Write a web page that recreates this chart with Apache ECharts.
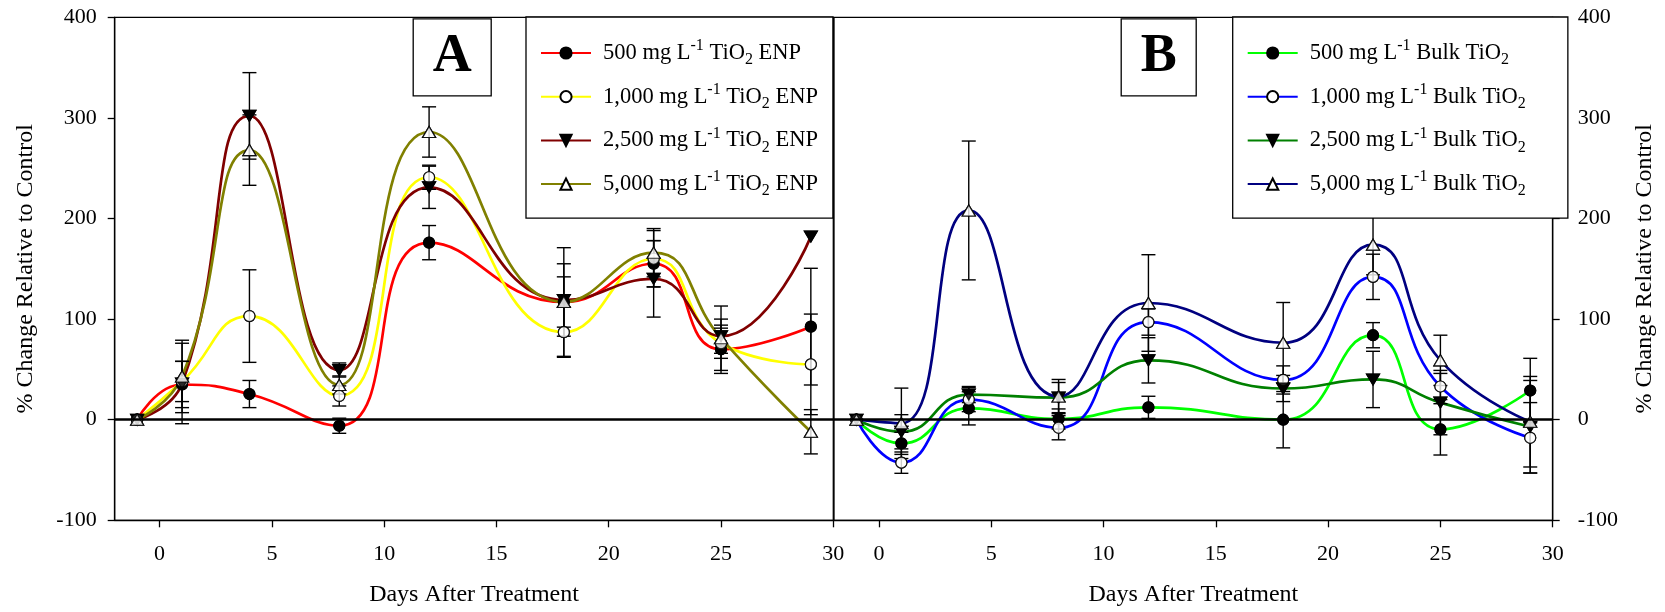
<!DOCTYPE html>
<html><head><meta charset="utf-8">
<script src="https://cdn.jsdelivr.net/npm/echarts@6/dist/echarts.min.js"></script>
<style>html,body{margin:0;padding:0;background:#fff}#c{width:1665px;height:612px}</style>
</head><body><div id="c"></div>
<script>
// ---- data ----
const days = [-1, 1, 4, 8, 12, 18, 22, 25, 29];
const xTickValues = [0, 5, 10, 15, 20, 25, 30];

// Panel A: TiO2 ENP
const enp500     = [0, 35, 25.5, -6, 176, 117, 155, 70, 92.5];
const enp500Err  = [0, 23, 13.5, 7.5, 17, 25, 23, 24, 58];
const enp1000    = [0, 38, 103, 23.6, 241, 87, 160, 76, 55];
const enp1000Err = [0, 20, 46, 10, 12, 25, 28, 15, 50];
const enp2500    = [0, 36, 302, 49.4, 231, 119, 140, 83, 182];
const enp2500Err = [0, 40, 43, 7, 21, 36, 38, 17, 0];
const enp5000    = [0, 43, 268, 34.5, 286, 117, 166, 81, -12];
const enp5000Err = [0, 36, 35, 9, 25, 54, 24, 32, 22];

// Panel B: Bulk TiO2
const bulk500     = [0, -23.5, 11.3, 0.7, 12.3, 0, 84, -9.6, 29];
const bulk500Err  = [0, 11, 16.5, 10, 11, 28, 12.5, 25.5, 32];
const bulk1000    = [0, -42.7, 20, -8, 97, 39.5, 142, 33, -18];
const bulk1000Err = [0, 10.6, 12, 12, 13, 14, 22.5, 13, 35];
const bulk2500    = [0, -12, 25, 22, 59, 31, 40, 17, -7];
const bulk2500Err = [0, 17, 8, 15, 22.5, 13, 28, 32, 46];
const bulk5000    = [0, -3.6, 208, 23, 116, 76.5, 174, 59, -2];
const bulk5000Err = [0, 35, 69, 17, 48, 40, 30, 25, 45];

const legendA = {
  enp500:  '{f|500 mg L}{sup|-1}{b| TiO}{sub|2}{b| ENP}',
  enp1000: '{f|1,000 mg L}{sup|-1}{b| TiO}{sub|2}{b| ENP}',
  enp2500: '{f|2,500 mg L}{sup|-1}{b| TiO}{sub|2}{b| ENP}',
  enp5000: '{f|5,000 mg L}{sup|-1}{b| TiO}{sub|2}{b| ENP}'
};
const legendB = {
  bulk500:  '{f|500 mg L}{sup|-1}{b| Bulk TiO}{sub|2}',
  bulk1000: '{f|1,000 mg L}{sup|-1}{b| Bulk TiO}{sub|2}',
  bulk2500: '{f|2,500 mg L}{sup|-1}{b| Bulk TiO}{sub|2}',
  bulk5000: '{f|5,000 mg L}{sup|-1}{b| Bulk TiO}{sub|2}'
};
const yName = '% Change Relative to Control';
const xName = 'Days After Treatment';

// ---- styles ----
const FONT = 'Liberation Serif';
const markers = {
  circleFill:  {symbol: 'circle', size: 11, rotate: 0, fill: '#000'},
  circleOpen:  {symbol: 'circle', size: 11, rotate: 0, fill: '#fff'},
  triDown:     {symbol: 'triangle', size: [13, 11], rotate: 180, fill: '#000'},
  triUp:       {symbol: 'triangle', size: [13, 11], rotate: 0, fill: '#fff'}
};

const defs = [
  {name: 'enp500',  g: 0, vals: enp500,  errs: enp500Err,  color: '#ff0000', m: markers.circleFill},
  {name: 'enp1000', g: 0, vals: enp1000, errs: enp1000Err, color: '#ffff00', m: markers.circleOpen},
  {name: 'enp2500', g: 0, vals: enp2500, errs: enp2500Err, color: '#800000', m: markers.triDown},
  {name: 'enp5000', g: 0, vals: enp5000, errs: enp5000Err, color: '#808000', m: markers.triUp},
  {name: 'bulk500',  g: 1, vals: bulk500,  errs: bulk500Err,  color: '#00ff00', m: markers.circleFill},
  {name: 'bulk1000', g: 1, vals: bulk1000, errs: bulk1000Err, color: '#0000ff', m: markers.circleOpen},
  {name: 'bulk2500', g: 1, vals: bulk2500, errs: bulk2500Err, color: '#008000', m: markers.triDown},
  {name: 'bulk5000', g: 1, vals: bulk5000, errs: bulk5000Err, color: '#000080', m: markers.triUp}
];

function errRender(params, api) {
  const x = api.value(0), lo = api.value(1), hi = api.value(2);
  const p1 = api.coord([x, lo]), p2 = api.coord([x, hi]);
  const w = 7;
  const st = {stroke: '#000', lineWidth: 1.4};
  return {type: 'group', children: [
    {type: 'line', shape: {x1: p1[0], y1: p1[1], x2: p2[0], y2: p2[1]}, style: st},
    {type: 'line', shape: {x1: p1[0] - w, y1: p1[1], x2: p1[0] + w, y2: p1[1]}, style: st},
    {type: 'line', shape: {x1: p2[0] - w, y1: p2[1], x2: p2[0] + w, y2: p2[1]}, style: st}
  ]};
}

const series = [];
defs.forEach(d => {
  const pts = days.map((x, i) => [x, d.vals[i]]);
  const mk = {
    symbol: d.m.symbol, symbolSize: d.m.size, symbolRotate: d.m.rotate,
    itemStyle: {color: d.m.fill, borderColor: '#000', borderWidth: 1.2}
  };
  series.push(Object.assign({
    name: d.name, type: 'line', xAxisIndex: d.g, yAxisIndex: d.g,
    data: pts, smooth: 0.5, showSymbol: true,
    lineStyle: {color: d.color, width: 2.7}, z: 2, silent: true
  }, mk));
  series.push({
    type: 'custom', xAxisIndex: d.g, yAxisIndex: d.g, z: 3, silent: true,
    renderItem: errRender, encode: {x: 0, y: [1, 2]},
    data: days.map((x, i) => [x, d.vals[i] - d.errs[i], d.vals[i] + d.errs[i]]).filter((r, i) => d.errs[i] > 0)
  });
  series.push(Object.assign({
    type: 'scatter', xAxisIndex: d.g, yAxisIndex: d.g, data: pts, z: 4, silent: true
  }, mk));
});
// zero lines
[0, 1].forEach(g => {
  series.push({
    type: 'line', xAxisIndex: g, yAxisIndex: g, data: [], z: 3, silent: true,
    markLine: {silent: true, symbol: ['none', 'none'], label: {show: false},
      lineStyle: {color: '#000', width: 2.6, type: 'solid'}, data: [{yAxis: 0}]}
  });
});

const richStyle = {
  f: {fontFamily: FONT, fontSize: 22.5, color: '#000', lineHeight: 30, verticalAlign: 'middle', padding: [0, 0, 0, 7]},
  b: {fontFamily: FONT, fontSize: 22.5, color: '#000', lineHeight: 30, verticalAlign: 'middle'},
  sup: {fontFamily: FONT, fontSize: 16, color: '#000', lineHeight: 16, verticalAlign: 'top'},
  sub: {fontFamily: FONT, fontSize: 16, color: '#000', lineHeight: 16, verticalAlign: 'bottom'}
};

function legendCfg(names, map, pos, padRight) {
  return Object.assign({
    orient: 'vertical', top: 17, data: names,
    itemWidth: 50, itemHeight: 14, itemGap: 13.7,
    padding: [21, padRight, 19, 14],
    borderColor: '#000', borderWidth: 1.3, backgroundColor: '#fff',
    selectedMode: false,
    formatter: n => map[n],
    textStyle: {fontFamily: FONT, fontSize: 22.5, color: '#000', rich: richStyle}
  }, pos);
}

const axisCommon = {
  axisLine: {show: true, onZero: false, lineStyle: {color: '#000', width: 1.3}},
  axisTick: {show: true, inside: false, length: 7, lineStyle: {color: '#000', width: 1.3}},
  splitLine: {show: false},
  axisLabel: {fontFamily: FONT, fontSize: 22, color: '#000'},
  nameTextStyle: {fontFamily: FONT, fontSize: 24, color: '#000'}
};

function xAxisCfg(g) {
  return Object.assign({}, axisCommon, {
    type: 'value', gridIndex: g, min: -2, max: 30,
    name: xName, nameLocation: 'middle', nameGap: 62,
    axisTick: Object.assign({}, axisCommon.axisTick, {customValues: xTickValues}),
    axisLabel: Object.assign({}, axisCommon.axisLabel, {customValues: xTickValues, margin: 23})
  });
}
function yAxisCfg(g, pos) {
  return Object.assign({}, axisCommon, {
    type: 'value', gridIndex: g, min: -100, max: 400, interval: 100, position: pos,
    name: yName, nameLocation: 'middle', nameRotate: 90, nameGap: pos === 'left' ? 77 : 80,
    axisLabel: Object.assign({}, axisCommon.axisLabel, {margin: pos === 'left' ? 18 : 25})
  });
}

const option = {
  animation: false,
  backgroundColor: '#fff',
  grid: [
    {left: 114.7, top: 17.3, width: 718.6, height: 503, show: true, borderColor: '#000', borderWidth: 1.3},
    {left: 834, top: 17.3, width: 718.7, height: 503, show: true, borderColor: '#000', borderWidth: 1.3}
  ],
  xAxis: [xAxisCfg(0), xAxisCfg(1)],
  yAxis: [yAxisCfg(0, 'left'), yAxisCfg(1, 'right')],
  title: [
    {text: 'A', left: 412.7, top: 18.3, padding: [12, 20, 12, 20], borderColor: '#000', borderWidth: 1.3,
     textStyle: {fontFamily: FONT, fontSize: 54, fontWeight: 'bold', color: '#000'}},
    {text: 'B', left: 1120.7, top: 18.3, padding: [12, 20, 12, 20], borderColor: '#000', borderWidth: 1.3,
     textStyle: {fontFamily: FONT, fontSize: 54, fontWeight: 'bold', color: '#000'}}
  ],
  legend: [
    legendCfg(Object.keys(legendA), legendA, {left: 526}, 15),
    legendCfg(Object.keys(legendB), legendB, {left: 1232.7}, 42)
  ],
  series: series
};
echarts.init(document.getElementById('c'), null, {renderer: 'canvas'}).setOption(option);
</script></body></html>
